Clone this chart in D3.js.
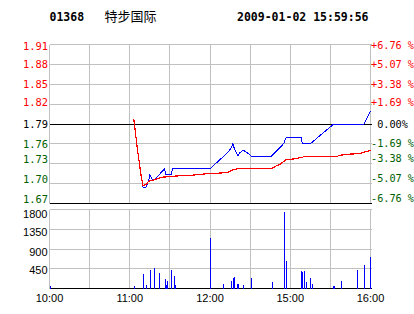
<!DOCTYPE html>
<html>
<head>
<meta charset="utf-8">
<script src="https://cdn.jsdelivr.net/npm/d3@7"></script>
<style>
  body { margin: 0; background: #fff; }
  svg { display: block; }
  .mono { font-family: "DejaVu Sans Mono", monospace; }
  .sans { font-family: "Liberation Sans", Arial, sans-serif; }
</style>
</head>
<body>
<div id="chart"></div>
<script>
const STOCK_CODE = "01368";
const STOCK_NAME = "特步国际";
const STAMP = "2009-01-02 15:59:56";
const PREV_CLOSE = 1.79;

// grid rows: percent change from previous close
const PCT_TICKS = [6.76, 5.07, 3.38, 1.69, 0, -1.69, -3.38, -5.07, -6.76];
const PRICE_LABELS = ["1.91", "1.88", "1.85", "1.82", "1.79", "1.76", "1.73", "1.70", "1.67"];
const PCT_LABELS = ["+6.76 %", "+5.07 %", "+3.38 %", "+1.69 %", " 0.00%", "-1.69 %", "-3.38 %", "-5.07 %", "-6.76 %"];

// minutes since 10:00 on the trading clock (lunch break removed)
const GRID_MINUTES = [0, 30, 60, 90, 120, 150, 180, 210, 240];
const TIME_TICKS = [0, 60, 120, 180, 240];
const TIME_LABELS = ["10:00", "11:00", "12:00", "15:00", "16:00"];

const VOL_TICKS = [450, 900, 1350, 1800];

const PRICE_MIN = [63, 64, 65, 66, 67, 68, 69, 70, 72, 73, 74, 75, 76, 77, 79, 80, 86, 87, 91, 92, 120, 133, 136, 137, 138, 141, 142, 145, 150, 151, 166, 175, 177, 188, 189, 195, 212, 235, 240];
const PRICE_VAL = [1.798, 1.781, 1.764, 1.748, 1.733, 1.718, 1.705, 1.693, 1.693, 1.698, 1.703, 1.712, 1.709, 1.704, 1.706, 1.708, 1.722, 1.713, 1.713, 1.722, 1.722, 1.746, 1.754, 1.760, 1.754, 1.741, 1.746, 1.750, 1.743, 1.741, 1.741, 1.760, 1.770, 1.770, 1.760, 1.760, 1.789, 1.789, 1.810];

const AVG_MIN = [63, 64, 65, 66, 67, 68, 69, 70, 73, 74, 77, 81, 84, 96, 106, 116, 133, 137, 141, 150, 166, 170, 172, 177, 184, 190, 215, 216, 223, 232, 240];
const AVG_VAL = [1.798, 1.781, 1.764, 1.748, 1.733, 1.718, 1.705, 1.696, 1.699, 1.703, 1.704, 1.707, 1.709, 1.711, 1.712, 1.714, 1.716, 1.720, 1.722, 1.722, 1.722, 1.727, 1.728, 1.736, 1.737, 1.740, 1.740, 1.742, 1.744, 1.745, 1.750];

const VOL_MIN = [0, 63, 70, 72, 75, 78, 82, 86, 87, 88, 91, 93, 94, 120, 130, 136, 137, 138, 140, 141, 145, 151, 166, 175, 177, 188, 189, 190, 192, 195, 196, 212, 213, 218, 230, 235, 240];
const VOL_VAL = [52, 52, 326, 75, 417, 469, 349, 212, 75, 166, 417, 280, 75, 1153, 98, 166, 228, 257, 98, 98, 75, 242, 143, 1745, 622, 394, 378, 394, 143, 242, 98, 52, 52, 166, 417, 531, 720];

const RED = "#ff0000";
const GREEN = "#006000";
const GRID = "#c0c0c0";
const BLUE = "#0000ff";

const width = 414;
const height = 314;
const snap = v => Math.floor(v) + 0.5;

const svg = d3.select("#chart").append("svg")
  .attr("width", width)
  .attr("height", height);

svg.append("rect").attr("width", width).attr("height", height).attr("fill", "#fff");

const x = d3.scaleLinear().domain([0, 240]).range([49.5, 370.5]);
const yPct = d3.scaleLinear().domain([-6.76, 6.76]).range([203.5, 44.5]);
const yPrice = p => yPct((p / PREV_CLOSE - 1) * 100);
const yVol = d3.scaleLinear().domain([0, 1800]).range([288.5, 209.5]);

const colorFor = i => PCT_TICKS[i] > 0 ? RED : (PCT_TICKS[i] < 0 ? GREEN : "#000");

// header
svg.append("text").attr("class", "mono")
  .attr("x", 49.5).attr("y", 20.5)
  .attr("font-size", 11.5).attr("font-weight", "bold")
  .text(STOCK_CODE);
svg.append("text")
  .attr("x", 104.5).attr("y", 20.5)
  .attr("font-family", "'Noto Sans CJK SC', sans-serif")
  .attr("font-size", 13)
  .text(STOCK_NAME);
svg.append("text").attr("class", "mono")
  .attr("x", 237).attr("y", 20.5)
  .attr("font-size", 11.5).attr("font-weight", "bold")
  .text(STAMP);

// price panel grid
const grid = svg.append("g").attr("shape-rendering", "crispEdges");

grid.selectAll(".vgrid-top")
  .data(GRID_MINUTES)
  .enter().append("line")
  .attr("x1", d => snap(x(d))).attr("x2", d => snap(x(d)))
  .attr("y1", snap(yPct(6.76))).attr("y2", snap(yPct(-6.76)))
  .attr("stroke", GRID);

grid.selectAll(".hgrid-top")
  .data(PCT_TICKS)
  .enter().append("line")
  .attr("x1", snap(x(0))).attr("x2", snap(x(240)) + 1)
  .attr("y1", d => snap(yPct(d))).attr("y2", d => snap(yPct(d)))
  .attr("stroke", d => (d === 0 || d === -6.76) ? "#000" : GRID);

// percent / price labels
const LEFT_NUDGE = [1, 0, 0, -2, 0, 0, -5, -5, -5];
svg.append("g").selectAll("text")
  .data(PRICE_LABELS)
  .enter().append("text")
  .attr("class", "mono")
  .attr("font-size", 10.4)
  .attr("x", 48)
  .attr("y", (d, i) => yPct(PCT_TICKS[i]) + LEFT_NUDGE[i])
  .attr("dominant-baseline", "central")
  .attr("text-anchor", "end")
  .attr("fill", (d, i) => colorFor(i))
  .text(d => d);

svg.append("g").selectAll("text")
  .data(PCT_LABELS)
  .enter().append("text")
  .attr("class", "mono")
  .attr("font-size", 10.2)
  .attr("x", 371)
  .attr("y", (d, i) => yPct(PCT_TICKS[i]) + LEFT_NUDGE[i])
  .attr("dominant-baseline", "central")
  .attr("xml:space", "preserve")
  .style("white-space", "pre")
  .attr("fill", (d, i) => colorFor(i))
  .text(d => d);

// price + average lines
const priceData = PRICE_MIN.map((m, i) => ({ m, v: PRICE_VAL[i] }));
const avgData = AVG_MIN.map((m, i) => ({ m, v: AVG_VAL[i] }));
const line = d3.line().x(d => x(d.m)).y(d => yPrice(d.v));

svg.append("path")
  .datum(priceData)
  .attr("d", line)
  .attr("fill", "none")
  .attr("stroke", BLUE)
  .attr("stroke-width", 1)
  .attr("shape-rendering", "crispEdges");

svg.append("path")
  .datum(avgData)
  .attr("d", line)
  .attr("fill", "none")
  .attr("stroke", RED)
  .attr("stroke-width", 1.2)
  .attr("shape-rendering", "crispEdges");

// volume panel grid
const vgrid = svg.append("g").attr("shape-rendering", "crispEdges");

vgrid.selectAll(".vgrid-bot")
  .data(GRID_MINUTES)
  .enter().append("line")
  .attr("x1", d => snap(x(d))).attr("x2", d => snap(x(d)))
  .attr("y1", snap(yVol(1800))).attr("y2", snap(yVol(0)))
  .attr("stroke", GRID);

vgrid.selectAll(".hgrid-bot")
  .data([0].concat(VOL_TICKS))
  .enter().append("line")
  .attr("x1", snap(x(0))).attr("x2", snap(x(240)) + 1)
  .attr("y1", d => snap(yVol(d))).attr("y2", d => snap(yVol(d)))
  .attr("stroke", d => d === 0 ? "#000" : GRID);

// volume bars
svg.append("g").attr("shape-rendering", "crispEdges")
  .selectAll("rect")
  .data(VOL_MIN.map((m, i) => ({ m, v: VOL_VAL[i] })))
  .enter().append("rect")
  .attr("x", d => Math.min(Math.round(x(d.m)), Math.floor(x(240))))
  .attr("y", d => yVol(d.v))
  .attr("width", 1)
  .attr("height", d => yVol(0) - yVol(d.v))
  .attr("fill", BLUE);

const VOL_NUDGE = [1, 2.5, 2.5, 4];
svg.append("g").selectAll("text")
  .data(VOL_TICKS)
  .enter().append("text")
  .attr("class", "sans")
  .attr("font-size", 11)
  .attr("x", 47.5)
  .attr("y", (d, i) => yVol(d) + VOL_NUDGE[i])
  .attr("dominant-baseline", "central")
  .attr("text-anchor", "end")
  .text(d => d);

svg.append("g").selectAll("text")
  .data(TIME_TICKS)
  .enter().append("text")
  .attr("class", "sans")
  .attr("font-size", 11)
  .attr("x", d => x(d))
  .attr("y", 298)
  .attr("dominant-baseline", "central")
  .attr("text-anchor", "middle")
  .text((d, i) => TIME_LABELS[i]);
</script>
</body>
</html>
